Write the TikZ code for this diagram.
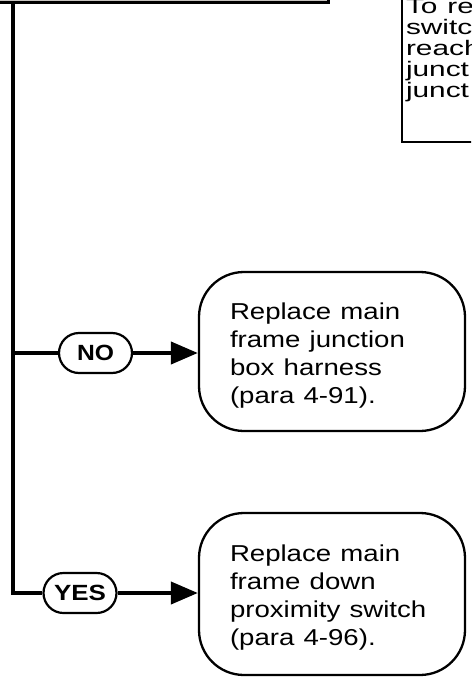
\documentclass[tikz,border=0pt]{standalone}
\usepackage{fontspec}
\setmainfont{Liberation Sans}
\usetikzlibrary{arrows.meta, positioning}
\definecolor{headgray}{RGB}{200,196,192}
\newcommand{\firstline}{\rule{0pt}{24pt}}
\newcommand{\wline}[1]{\scalebox{1.2}[1]{#1}}
\newcommand{\nline}[1]{\scalebox{1.42}[1]{#1}}

\begin{document}
\begin{tikzpicture}[
    x=1pt, y=-1pt,
    headbox/.style={
        rectangle,
        draw=black,
        line width=3pt,
        fill=headgray,
        minimum width=360pt,
        minimum height=60pt,
        anchor=south east
    },
    notebox/.style={
        rectangle,
        draw=black,
        line width=2pt,
        fill=white,
        anchor=south west,
        align=left,
        text width=110pt,
        inner xsep=4pt,
        inner ysep=40pt,
        font=\fontsize{21}{21}\selectfont
    },
    answer/.style={
        rectangle,
        rounded corners=20pt,
        draw=black,
        line width=2.2pt,
        fill=white,
        minimum width=73pt,
        minimum height=40pt,
        inner sep=0pt,
        font=\fontsize{22}{22}\selectfont\bfseries
    },
    action/.style={
        rectangle,
        rounded corners=45pt,
        draw=black,
        line width=2.3pt,
        fill=white,
        align=left,
        text width=204pt,
        inner xsep=31pt,
        minimum height=160pt,
        font=\fontsize{23}{28}\selectfont
    },
    link/.style={line width=4pt},
    arrow/.style={link, -{Triangle[length=27pt, width=22pt]}}
]
\useasboundingbox (0,0) rectangle (471,677);
\clip (0,0) rectangle (471,677);

% header and note, cut by the page
\node[headbox] (head) at (330,4.5) {};
\node[notebox] (note) at (401,143)
    {\nline{To re}\\\nline{switc}\\\nline{reach}\\\nline{junct}\\\nline{junct}};
\coordinate (trunk) at (12.5,0);

% NO branch
\node[answer] (no) at (95.5,353) {\scalebox{1.12}[1]{NO}};
\node[action, minimum height=159pt] (fixharness) at (332,351.5)
    {\firstline\wline{Replace main}\\\wline{frame junction}\\\wline{box harness}\\\wline{(para 4-91).}};
\draw[link] (trunk |- no) -- (no.west);
\draw[arrow] (no.east) -- (no.east -| fixharness.west);

% YES branch
\node[answer] (yes) at (80,593) {\scalebox{1.18}[1]{YES}};
\node[action, minimum height=162pt] (fixswitch) at (332,594)
    {\firstline\wline{Replace main}\\\wline{frame down}\\\wline{proximity switch}\\\wline{(para 4-96).}};
\draw[link] (trunk |- head.south) |- (yes.west);
\draw[arrow] (yes.east) -- (yes.east -| fixswitch.west);

\end{tikzpicture}
\end{document}
